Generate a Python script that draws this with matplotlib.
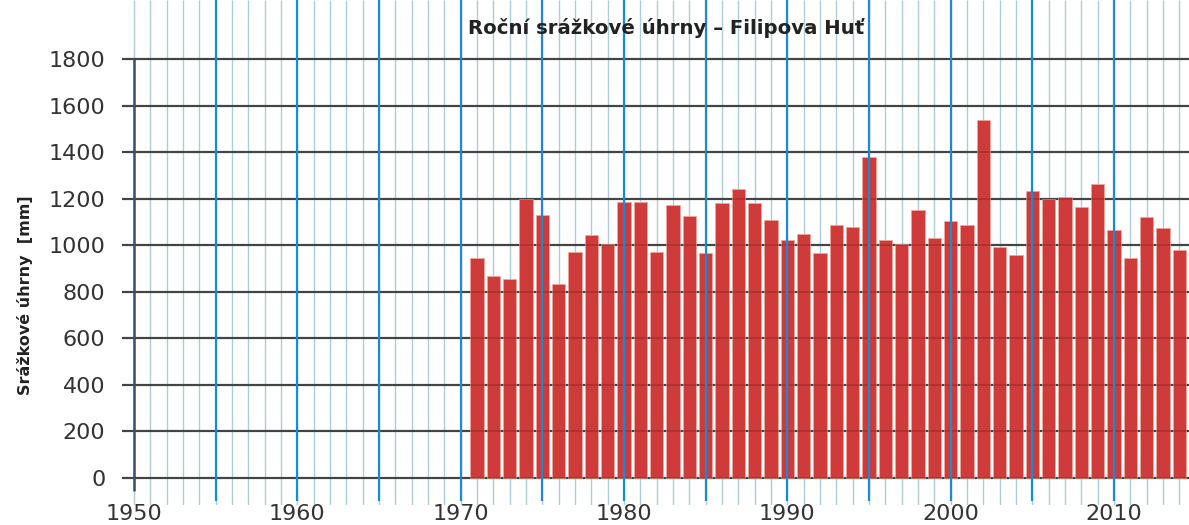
import matplotlib
matplotlib.use("Agg")
import matplotlib.pyplot as plt
import numpy as np

years = list(range(1971, 2015))
rain_mm = [947, 867, 857, 1200, 1128, 835, 971, 1043, 1007, 1186,
           1186, 971, 1172, 1126, 967, 1183, 1240, 1183, 1107, 1021,
           1050, 967, 1086, 1079, 1379, 1024, 1007, 1153, 1029, 1103,
           1089, 1539, 993, 960, 1233, 1200, 1207, 1164, 1262, 1064,
           943, 1121, 1074, 981]
y_ticks = [0, 200, 400, 600, 800, 1000, 1200, 1400, 1600, 1800]
x_ticks = [1950, 1960, 1970, 1980, 1990, 2000, 2010]

title = "Roční srážkové úhrny – Filipova Huť"
ylabel = "Srážkové úhrny  [mm]"

plt.rcParams['font.family'] = ['DejaVu Sans']

W, H = 1189, 525
fig = plt.figure(figsize=(W / 100, H / 100), dpi=100)
fig.patch.set_facecolor('white')

# axes placed so that data coords map onto the reference pixels
x0_px, x1_px = 122, W
y_top_px, y_bot_px = 0, 505
ax = fig.add_axes([x0_px / W, (H - y_bot_px) / H,
                   (x1_px - x0_px) / W, (y_bot_px - y_top_px) / H])

px_per_year = (1114 - 134) / 60.0
mm_per_px = 1800 / (478 - 59)
xmin = 1950 - (134 - x0_px) / px_per_year
xmax = 1950 + (x1_px - 134) / px_per_year
ymax = 1800 + (59 - y_top_px) * mm_per_px
ymin = -(y_bot_px - 478) * mm_per_px
ax.set_xlim(xmin, xmax)
ax.set_ylim(ymin, ymax)

# thin yearly lines
all_years = np.arange(1950, 2015)
ax.vlines(all_years, ymin, ymax, color='#aecdd6', lw=1.0, zorder=0)

# horizontal grid
ax.hlines(y_ticks, xmin, xmax, color='#505050', lw=1.6, zorder=1)

# bars
ax.bar(years, rain_mm, width=0.82, color='#cf3a3a', edgecolor='#f0a898',
       linewidth=0.5, zorder=2)

# grid showing faintly through the bars
ax.hlines(y_ticks, xmin, xmax, color='black', lw=1.4, alpha=0.15, zorder=3)

# blue five-year lines
five = np.arange(1955, 2015, 5)
ax.vlines(five, -100, ymax, color='#1a8ad6', lw=1.6, zorder=4)

# left dark axis line
ax.vlines([1950], -55, 1800, color='#34506e', lw=1.8, zorder=4)

for s in ax.spines.values():
    s.set_visible(False)

ax.set_yticks(y_ticks)
ax.set_yticklabels([str(v) for v in y_ticks])
ax.set_xticks(x_ticks)
ax.set_xticklabels([str(v) for v in x_ticks])
ax.tick_params(axis='y', length=0, pad=12, labelsize=16, labelcolor='#333333')
ax.tick_params(axis='x', length=0, pad=-1, labelsize=16, labelcolor='#333333')

fig.text(666 / W, 1 - 28 / H, title, ha='center', va='center',
         fontsize=14.2, fontweight='bold', color='#222222')
fig.text(25 / W, 1 - 295 / H, ylabel, ha='center', va='center',
         rotation=90, fontsize=11.5, fontweight='bold', color='#222222')

fig.savefig('out.png', dpi=100, facecolor='white')
